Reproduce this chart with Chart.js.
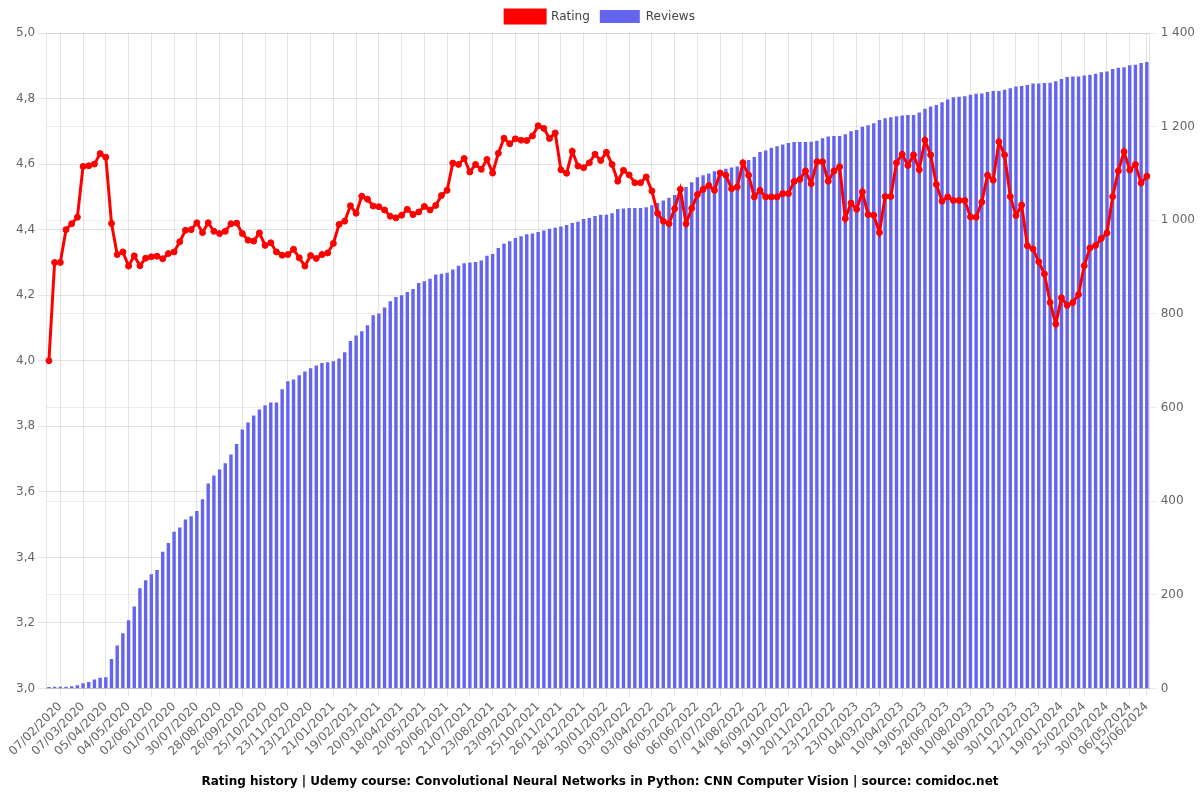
<!DOCTYPE html>
<html>
<head>
<meta charset="utf-8">
<script src="https://cdn.jsdelivr.net/npm/chart.js@4/dist/chart.umd.min.js"></script>
<style>
html,body{margin:0;padding:0;background:#fff;}
#wrap{width:1200px;height:800px;position:relative;}
</style>
</head>
<body>
<div id="wrap"><canvas id="c"></canvas></div>
<script>
const categories = [
"24/01/2020","31/01/2020","07/02/2020","14/02/2020","21/02/2020","29/02/2020","07/03/2020","14/03/2020","21/03/2020","28/03/2020",
"05/04/2020","12/04/2020","19/04/2020","27/04/2020","04/05/2020","11/05/2020","18/05/2020","25/05/2020","02/06/2020","09/06/2020",
"16/06/2020","23/06/2020","01/07/2020","08/07/2020","15/07/2020","22/07/2020","30/07/2020","06/08/2020","13/08/2020","20/08/2020",
"28/08/2020","04/09/2020","11/09/2020","18/09/2020","26/09/2020","03/10/2020","10/10/2020","17/10/2020","25/10/2020","01/11/2020",
"08/11/2020","15/11/2020","23/11/2020","30/11/2020","07/12/2020","15/12/2020","23/12/2020","30/12/2020","06/01/2021","13/01/2021",
"21/01/2021","28/01/2021","04/02/2021","11/02/2021","19/02/2021","26/02/2021","05/03/2021","12/03/2021","20/03/2021","27/03/2021",
"03/04/2021","10/04/2021","18/04/2021","26/04/2021","04/05/2021","12/05/2021","20/05/2021","28/05/2021","05/06/2021","12/06/2021",
"20/06/2021","28/06/2021","06/07/2021","13/07/2021","21/07/2021","29/07/2021","06/08/2021","15/08/2021","23/08/2021","31/08/2021",
"08/09/2021","15/09/2021","23/09/2021","01/10/2021","09/10/2021","17/10/2021","25/10/2021","02/11/2021","10/11/2021","18/11/2021",
"26/11/2021","04/12/2021","12/12/2021","20/12/2021","28/12/2021","05/01/2022","13/01/2022","22/01/2022","30/01/2022","07/02/2022",
"15/02/2022","23/02/2022","03/03/2022","11/03/2022","18/03/2022","26/03/2022","03/04/2022","11/04/2022","19/04/2022","28/04/2022",
"06/05/2022","14/05/2022","22/05/2022","29/05/2022","06/06/2022","14/06/2022","22/06/2022","29/06/2022","07/07/2022","16/07/2022",
"26/07/2022","05/08/2022","14/08/2022","22/08/2022","30/08/2022","07/09/2022","16/09/2022","24/09/2022","02/10/2022","10/10/2022",
"19/10/2022","27/10/2022","04/11/2022","12/11/2022","20/11/2022","28/11/2022","06/12/2022","14/12/2022","23/12/2022","31/12/2022",
"08/01/2023","15/01/2023","23/01/2023","02/02/2023","12/02/2023","22/02/2023","04/03/2023","13/03/2023","22/03/2023","31/03/2023",
"10/04/2023","20/04/2023","30/04/2023","09/05/2023","19/05/2023","29/05/2023","08/06/2023","18/06/2023","28/06/2023","08/07/2023",
"19/07/2023","30/07/2023","10/08/2023","20/08/2023","30/08/2023","08/09/2023","18/09/2023","28/09/2023","09/10/2023","19/10/2023",
"30/10/2023","10/11/2023","21/11/2023","01/12/2023","12/12/2023","21/12/2023","31/12/2023","09/01/2024","19/01/2024","28/01/2024",
"06/02/2024","16/02/2024","25/02/2024","04/03/2024","13/03/2024","21/03/2024","30/03/2024","08/04/2024","18/04/2024","27/04/2024",
"06/05/2024","19/05/2024","01/06/2024","15/06/2024"
];

const rating = [
4.00,4.30,4.30,4.40,4.418,4.438,4.593,4.595,4.60,4.632,
4.621,4.419,4.324,4.332,4.289,4.32,4.29,4.313,4.317,4.319,
4.311,4.327,4.332,4.363,4.398,4.40,4.421,4.391,4.421,4.395,
4.388,4.395,4.418,4.42,4.388,4.368,4.365,4.39,4.352,4.36,
4.332,4.322,4.324,4.34,4.314,4.289,4.321,4.312,4.324,4.329,
4.358,4.416,4.426,4.473,4.45,4.502,4.493,4.472,4.47,4.46,
4.441,4.436,4.444,4.462,4.446,4.454,4.471,4.46,4.474,4.504,
4.52,4.603,4.599,4.617,4.576,4.599,4.584,4.614,4.573,4.633,
4.679,4.662,4.677,4.673,4.672,4.686,4.717,4.709,4.678,4.695,
4.583,4.572,4.639,4.594,4.589,4.604,4.63,4.611,4.636,4.599,
4.548,4.581,4.567,4.543,4.543,4.561,4.518,4.45,4.426,4.418,
4.464,4.523,4.418,4.465,4.507,4.523,4.535,4.52,4.573,4.566,
4.525,4.53,4.604,4.566,4.50,4.52,4.50,4.50,4.50,4.51,
4.51,4.547,4.553,4.579,4.54,4.607,4.607,4.548,4.579,4.592,
4.434,4.481,4.462,4.515,4.446,4.444,4.391,4.501,4.501,4.604,
4.63,4.596,4.628,4.583,4.673,4.628,4.538,4.487,4.50,4.489,
4.489,4.489,4.439,4.438,4.484,4.566,4.551,4.668,4.628,4.501,
4.443,4.475,4.351,4.341,4.302,4.265,4.178,4.112,4.192,4.169,
4.178,4.202,4.29,4.344,4.352,4.373,4.39,4.501,4.579,4.638,
4.582,4.599,4.542,4.563
];

const reviews = [
3,4,4,4,5,7,11,14,19,23,
24,63,92,118,146,175,214,231,244,253,
292,311,335,344,361,368,379,404,438,455,
468,481,500,522,553,568,583,596,605,611,
611,639,656,660,669,677,684,690,695,697,
699,705,718,742,754,763,776,797,801,814,
827,836,840,847,853,866,870,875,884,886,
888,895,903,908,910,911,914,924,928,941,
950,955,962,966,970,972,975,978,982,984,
987,990,994,997,1003,1005,1009,1012,1012,1015,
1024,1025,1026,1026,1026,1028,1032,1037,1042,1048,
1054,1062,1071,1081,1092,1096,1100,1105,1106,1110,
1113,1115,1126,1129,1135,1146,1149,1155,1158,1162,
1165,1167,1167,1167,1168,1170,1175,1179,1180,1180,
1184,1190,1193,1200,1203,1207,1214,1218,1220,1222,
1224,1225,1225,1230,1238,1243,1246,1252,1258,1263,
1264,1265,1268,1270,1271,1274,1276,1276,1279,1282,
1286,1287,1289,1292,1292,1293,1294,1297,1302,1306,
1307,1307,1309,1311,1313,1316,1318,1323,1326,1327,
1331,1332,1336,1338
];

const ratingTicks = [3.0,3.2,3.4,3.6,3.8,4.0,4.2,4.4,4.6,4.8,5.0];
const reviewTicks = [0,200,400,600,800,1000,1200,1400];
const titleText = "Rating history | Udemy course: Convolutional Neural Networks in Python: CNN Computer Vision | source: comidoc.net";

const FONT = "'DejaVu Sans', sans-serif";
const lastIdx = categories.length - 1;

new Chart(document.getElementById('c'), {
  type: 'bar',
  data: {
    labels: categories,
    datasets: [
      {
        type: 'line',
        label: 'Rating',
        data: rating,
        yAxisID: 'y',
        borderColor: 'rgb(255,0,0)',
        backgroundColor: 'rgb(255,0,0)',
        borderWidth: 3,
        pointRadius: 3,
        pointBorderWidth: 1,
        pointBackgroundColor: 'rgb(255,0,0)',
        pointBorderColor: 'rgb(255,0,0)',
        tension: 0
      },
      {
        type: 'bar',
        label: 'Reviews',
        data: reviews,
        yAxisID: 'y1',
        backgroundColor: 'rgba(100,100,238,1)',
        borderWidth: 0,
        barPercentage: 0.6,
        categoryPercentage: 1.0
      }
    ]
  },
  options: {
    responsive: true,
    maintainAspectRatio: false,
    animation: false,
    layout: { padding: { left: 2, right: 2, top: 0, bottom: 6 } },
    plugins: {
      legend: {
        position: 'top',
        labels: { font: { family: FONT, size: 12 }, color: '#444', boxWidth: 40, boxHeight: 13 }
      },
      title: {
        display: true,
        position: 'bottom',
        text: titleText,
        color: '#000',
        font: { family: FONT, size: 12, weight: 'bold' },
        padding: { top: 13, bottom: 5 }
      },
      tooltip: { enabled: false }
    },
    scales: {
      x: {
        offset: true,
        grid: { offset: false, color: 'rgba(0,0,0,0.1)' },
        ticks: {
          autoSkip: false,
          maxRotation: 45,
          minRotation: 45,
          color: '#666',
          font: { family: FONT, size: 12 },
          callback: function(v, i) {
            return (i % 4 === 2 || i === lastIdx) ? categories[i] : null;
          }
        }
      },
      y: {
        position: 'left',
        min: ratingTicks[0],
        max: ratingTicks[ratingTicks.length - 1],
        afterFit: s => { s.width = s.width + 11; },
        ticks: {
          stepSize: 0.2,
          color: '#666',
          font: { family: FONT, size: 12 },
          callback: v => Number(v).toFixed(1).replace('.', ',')
        },
        grid: { color: 'rgba(0,0,0,0.1)' }
      },
      y1: {
        position: 'right',
        min: reviewTicks[0],
        max: reviewTicks[reviewTicks.length - 1],
        ticks: {
          stepSize: 200,
          color: '#666',
          font: { family: FONT, size: 12 },
          callback: v => String(v).replace(/\B(?=(\d{3})+(?!\d))/g, ' ')
        },
        grid: { color: 'rgba(0,0,0,0.07)' }
      }
    }
  }
});
</script>
</body>
</html>
